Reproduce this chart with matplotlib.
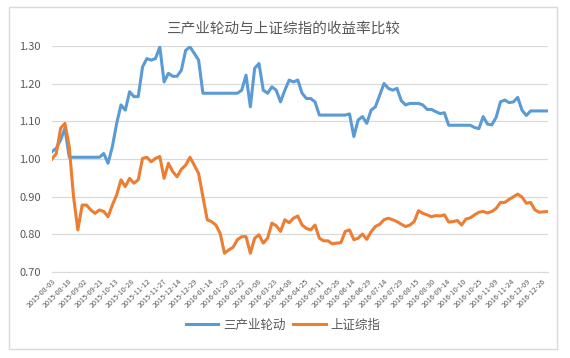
# -*- coding: utf-8 -*-
# 三产业轮动 vs 上证综指 cumulative return chart

import numpy as np
import matplotlib
matplotlib.use('Agg')
import matplotlib.pyplot as plt
from matplotlib.patches import Rectangle

plt.rcParams['font.family'] = ['Noto Sans CJK SC', 'DejaVu Sans']

################################################################################
# data: one sample every 3 trading days

step = 3

rotation_values = [
    1.02, 1.029, 1.051, 1.082, 1.005, 1.005, 1.005, 1.005, 1.005, 1.005,
    1.005, 1.005, 1.015, 0.989, 1.033, 1.095, 1.144, 1.13, 1.179, 1.166,
    1.166, 1.245, 1.267, 1.263, 1.267, 1.298, 1.205, 1.228, 1.22, 1.22,
    1.236, 1.289, 1.298, 1.281, 1.263, 1.175, 1.175, 1.175, 1.175, 1.175,
    1.175, 1.175, 1.175, 1.175, 1.183, 1.223, 1.139, 1.241, 1.254, 1.183,
    1.175, 1.192, 1.183, 1.152, 1.183, 1.21, 1.205, 1.21, 1.175, 1.161,
    1.161, 1.152, 1.117, 1.117, 1.117, 1.117, 1.117, 1.117, 1.117, 1.12,
    1.06, 1.104, 1.113, 1.095, 1.13, 1.139, 1.17, 1.201, 1.188, 1.183,
    1.188, 1.155, 1.144, 1.148, 1.148, 1.148, 1.144, 1.132, 1.132, 1.126,
    1.121, 1.123, 1.09, 1.09, 1.09, 1.09, 1.09, 1.09, 1.084, 1.081,
    1.113, 1.093, 1.091, 1.111, 1.152, 1.157, 1.15, 1.152, 1.164, 1.13,
    1.116, 1.128, 1.128, 1.128, 1.128, 1.128,
]

index_values = [
    1.00, 1.015, 1.082, 1.095, 1.033, 0.90, 0.812, 0.878, 0.878, 0.865,
    0.856, 0.865, 0.861, 0.847, 0.878, 0.905, 0.945, 0.927, 0.949, 0.936,
    0.945, 1.002, 1.005, 0.993, 1.002, 1.007, 0.949, 0.989, 0.967, 0.953,
    0.973, 0.984, 1.005, 0.984, 0.962, 0.90, 0.839, 0.834, 0.825, 0.803,
    0.75, 0.759, 0.766, 0.786, 0.794, 0.794, 0.75, 0.79, 0.799, 0.777,
    0.79, 0.83, 0.823, 0.808, 0.839, 0.831, 0.843, 0.849, 0.825, 0.816,
    0.812, 0.825, 0.79, 0.783, 0.783, 0.775, 0.777, 0.778, 0.808, 0.812,
    0.786, 0.79, 0.801, 0.787, 0.807, 0.821, 0.827, 0.839, 0.843, 0.839,
    0.834, 0.827, 0.821, 0.825, 0.834, 0.863, 0.856, 0.852, 0.847, 0.85,
    0.849, 0.852, 0.833, 0.834, 0.837, 0.825, 0.841, 0.844, 0.852, 0.859,
    0.861, 0.857, 0.861, 0.869, 0.885, 0.885, 0.893, 0.90, 0.907, 0.899,
    0.883, 0.885, 0.865, 0.859, 0.86, 0.861,
]

tick_labels = [
    '2015-08-03', '2015-08-18', '2015-09-02', '2015-09-21', '2015-10-13',
    '2015-10-28', '2015-11-12', '2015-11-27', '2015-12-14', '2015-12-29',
    '2016-01-14', '2016-01-29', '2016-02-22', '2016-03-08', '2016-03-23',
    '2016-04-08', '2016-04-25', '2016-05-11', '2016-05-26', '2016-06-14',
    '2016-06-29', '2016-07-14', '2016-07-29', '2016-08-15', '2016-08-30',
    '2016-09-14', '2016-10-10', '2016-10-25', '2016-11-09', '2016-11-24',
    '2016-12-09', '2016-12-26',
]
tick_every = 11

################################################################################

days = np.arange(len(rotation_values)) * step

fig = plt.figure(figsize=(5.7, 3.58), dpi=100)
ax = fig.add_axes([0.0912, 0.240, 0.870, 0.631])

ax.plot(days, rotation_values, color='#5B9BD5', lw=2.2, label='三产业轮动')
ax.plot(days, index_values, color='#ED7D31', lw=2.2, label='上证综指')

ax.set_xlim(0, days[-1])
ax.set_ylim(0.70, 1.30)
ax.set_yticks(np.arange(0.70, 1.31, 0.10))
ax.set_yticklabels(['%.2f' % v for v in np.arange(0.70, 1.31, 0.10)])
ax.set_xticks(np.arange(len(tick_labels)) * tick_every)
ax.set_xticklabels(tick_labels, rotation=45, ha='right', va='top',
                   rotation_mode='anchor', fontsize=5.2, color='#595959')

ax.grid(axis='y', color='#d9d9d9', lw=0.9)
ax.set_axisbelow(True)
for side in ['top', 'right', 'left']:
    ax.spines[side].set_visible(False)
ax.spines['bottom'].set_color('#d9d9d9')
ax.tick_params(axis='both', length=0)
ax.tick_params(axis='y', labelsize=8, colors='#595959', pad=8)
ax.tick_params(axis='x', pad=4)

fig.text(0.497, 0.92, '三产业轮动与上证综指的收益率比较', ha='center', va='center',
         fontsize=10.5, color='#595959')

ax.legend(loc='center', bbox_to_anchor=(0.497, 0.092), bbox_transform=fig.transFigure,
          ncol=2, frameon=False, fontsize=9, handlelength=2.6, columnspacing=0.6,
          handletextpad=0.4, labelcolor='#595959')

fig.patches.append(Rectangle((9 / 570, 1 - 349 / 358), 548 / 570, 342 / 358,
                             transform=fig.transFigure, fill=False,
                             edgecolor='#d9d9d9', lw=1))

fig.savefig('out.png', dpi=100)
